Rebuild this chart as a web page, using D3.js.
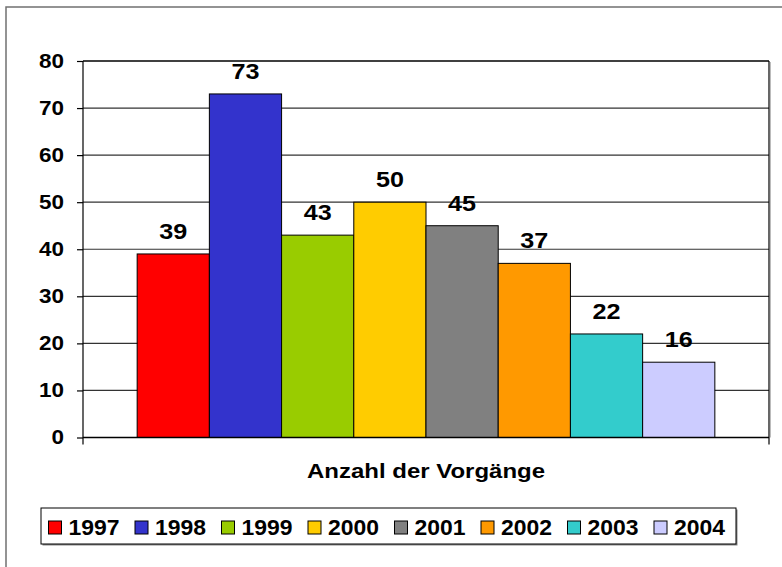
<!DOCTYPE html>
<html>
<head>
<meta charset="utf-8">
<script src="https://cdn.jsdelivr.net/npm/d3@7"></script>
<style>
  body { margin: 0; background: #fff; }
  text { font-family: "Liberation Sans", Arial, sans-serif; font-weight: bold; fill: #000; }
</style>
</head>
<body>
<div class="chart"></div>
<script>
// data
const years = ['1997', '1998', '1999', '2000', '2001', '2002', '2003', '2004'];
const values = [39, 73, 43, 50, 45, 37, 22, 16];
const colors = ['#FF0000', '#3333CC', '#99CC00', '#FFCC00', '#808080', '#FF9900', '#33CCCC', '#CCCCFF'];
const yTicks = [0, 10, 20, 30, 40, 50, 60, 70, 80];
const axisTitle = 'Anzahl der Vorgänge';

const width = 782, height = 567;
const plot = {left: 83, top: 61, right: 769, bottom: 437.5};

const svg = d3.select(".chart")
	.append("svg")
	.attr("width", width)
	.attr("height", height);

// outer chart border (cut off at right/bottom)
svg.append("rect")
	.attr("x", 6).attr("y", 7)
	.attr("width", 800).attr("height", 600)
	.attr("fill", "none")
	.attr("stroke", "#707070")
	.attr("stroke-width", 1.5);

const xScale = d3.scaleBand()
	.domain(years)
	.range([plot.left, plot.right])
	.paddingInner(0)
	.paddingOuter(0.75);

const yScale = d3.scaleLinear()
	.domain([0, 80])
	.range([plot.bottom, plot.top]);

// plot area shadow
svg.append("line")
	.attr("x1", plot.right + 1.5).attr("x2", plot.right + 1.5)
	.attr("y1", plot.top + 1).attr("y2", plot.bottom)
	.attr("stroke", "#bbb").attr("stroke-width", 1);

// gridlines
svg.append("g")
	.selectAll("line")
	.data(yTicks.filter(d => d > 0))
	.enter()
	.append("line")
	.attr("x1", plot.left).attr("x2", plot.right)
	.attr("y1", d => yScale(d)).attr("y2", d => yScale(d))
	.attr("stroke", d => d === 80 ? "#000" : "#333")
	.attr("stroke-width", d => d === 80 ? 1.6 : 1.2);

// right border
svg.append("line")
	.attr("x1", plot.right).attr("x2", plot.right)
	.attr("y1", plot.top).attr("y2", plot.bottom + 7)
	.attr("stroke", "#000").attr("stroke-width", 1.2);

// bars
svg.selectAll('rect.bar')
	.data(years)
	.enter()
	.append('rect')
	.attr('class', 'bar')
	.attr('x', d => xScale(d))
	.attr('y', (d, i) => yScale(values[i]))
	.attr('width', xScale.bandwidth())
	.attr('height', (d, i) => plot.bottom - yScale(values[i]))
	.attr('fill', (d, i) => colors[i])
	.attr('stroke', '#000')
	.attr('stroke-width', 1);

// value labels
svg.selectAll('text.val')
	.data(years)
	.enter()
	.append('text')
	.attr('class', 'val')
	.attr('x', d => xScale(d) + xScale.bandwidth() / 2)
	.attr('y', (d, i) => yScale(values[i]) - 15)
	.attr('text-anchor', 'middle')
	.attr('font-size', '22px')
	.attr('textLength', (d, i) => String(values[i]).length * 14)
	.attr('lengthAdjust', 'spacingAndGlyphs')
	.text((d, i) => values[i]);

// y axis
const yAxis = d3.axisLeft(yScale)
	.tickValues(yTicks)
	.tickSize(6)
	.tickPadding(13);

const gy = svg.append("g")
	.attr("transform", `translate(${plot.left},0)`)
	.call(yAxis);
gy.select(".domain").remove();
gy.selectAll(".tick line").attr("stroke", "#000").attr("stroke-width", 1.2);
gy.selectAll(".tick text")
	.attr("font-size", "20px")
	.attr("font-family", '"Liberation Sans", Arial, sans-serif')
	.attr("font-weight", "bold")
	.attr("fill", "#000")
	.attr("textLength", d => String(d).length * 12.5)
	.attr("lengthAdjust", "spacingAndGlyphs");

// axis lines
svg.append("line")
	.attr("x1", plot.left).attr("x2", plot.left)
	.attr("y1", plot.top).attr("y2", plot.bottom + 7)
	.attr("stroke", "#000").attr("stroke-width", 1.2);
svg.append("line")
	.attr("x1", plot.left).attr("x2", plot.right)
	.attr("y1", plot.bottom).attr("y2", plot.bottom)
	.attr("stroke", "#000").attr("stroke-width", 1.4);

// axis title
svg.append("text")
	.attr('x', (plot.left + plot.right) / 2)
	.attr('y', 478)
	.attr('text-anchor', 'middle')
	.attr('font-size', '20px')
	.attr('textLength', 238)
	.attr('lengthAdjust', 'spacingAndGlyphs')
	.text(axisTitle);

// legend
const legend = {x: 41, y: 508, w: 695, h: 36};
svg.append("rect")
	.attr("x", legend.x + 1.5).attr("y", legend.y + 1.5)
	.attr("width", legend.w).attr("height", legend.h)
	.attr("fill", "#888");
svg.append("rect")
	.attr("x", legend.x).attr("y", legend.y)
	.attr("width", legend.w).attr("height", legend.h)
	.attr("fill", "#fff").attr("stroke", "#000").attr("stroke-width", 1);

const legendX = d3.scalePoint()
	.domain(years)
	.range([48.5, 654]);

const items = svg.selectAll('g.item')
	.data(years)
	.enter()
	.append('g')
	.attr('class', 'item')
	.attr('transform', d => `translate(${legendX(d)},${legend.y + 13})`);

items.append('rect')
	.attr('width', 13).attr('height', 13)
	.attr('fill', (d, i) => colors[i])
	.attr('stroke', '#000').attr('stroke-width', 1);

items.append('text')
	.attr('x', 20)
	.attr('y', 13.5)
	.attr('font-size', '22px')
	.attr('textLength', 51)
	.attr('lengthAdjust', 'spacingAndGlyphs')
	.text(d => d);
</script>
</body>
</html>
